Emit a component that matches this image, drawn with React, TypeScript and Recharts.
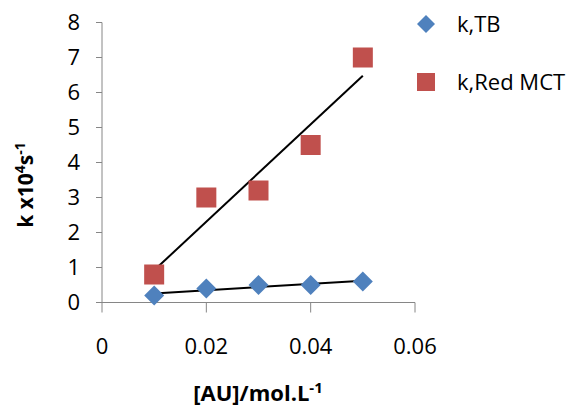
import { ScatterChart, Scatter, XAxis, YAxis, ReferenceLine, Legend, Label } from "recharts";

// [AU] concentrations (mol/L) and rate constants (k x10^4 s^-1)
const concentrations = [0.01, 0.02, 0.03, 0.04, 0.05];
const kTB = [0.2, 0.4, 0.5, 0.5, 0.6];
const kRedMCT = [0.8, 3.0, 3.2, 4.5, 7.0];

const xTicks = [0, 0.02, 0.04, 0.06];
const yTicks = [0, 1, 2, 3, 4, 5, 6, 7, 8];
const seriesNames = ["k,TB", "k,Red MCT"];

const BLUE = "#4F81BD";
const RED = "#C0504D";
const AXIS = "#868686";
const FONT = "'Open Sans', sans-serif";

const tbData = concentrations.map((x, i) => ({ x, y: kTB[i] }));
const redData = concentrations.map((x, i) => ({ x, y: kRedMCT[i] }));

// least squares trendline over the data range (like Excel's linear trendline)
const fit = (xs: number[], ys: number[]) => {
  const n = xs.length;
  const mx = xs.reduce((a, b) => a + b, 0) / n;
  const my = ys.reduce((a, b) => a + b, 0) / n;
  let sxy = 0;
  let sxx = 0;
  xs.forEach((x, i) => {
    sxy += (x - mx) * (ys[i] - my);
    sxx += (x - mx) * (x - mx);
  });
  const slope = sxy / sxx;
  const x0 = xs[0];
  const x1 = xs[n - 1];
  return [
    { x: x0, y: my + slope * (x0 - mx) },
    { x: x1, y: my + slope * (x1 - mx) },
  ];
};

const tbTrend = fit(concentrations, kTB);
const redTrend = fit(concentrations, kRedMCT);

const Diamond = (props: any) => {
  const { cx, cy } = props;
  const r = 10;
  return <path d={`M${cx},${cy - r}L${cx + r},${cy}L${cx},${cy + r}L${cx - r},${cy}Z`} fill={BLUE} />;
};

const Square = (props: any) => {
  const { cx, cy } = props;
  const s = 20;
  return <rect x={cx - s / 2} y={cy - s / 2} width={s} height={s} fill={RED} />;
};

const LegendBox = () => (
  <svg width={176} height={110} style={{ fontFamily: FONT, display: "block" }}>
    <path d="M26,15L35,24L26,33L17,24Z" fill={BLUE} />
    <text x={57} y={32} fontSize={22} fill="#000">{seriesNames[0]}</text>
    <rect x={17} y={73} width={18} height={18} fill={RED} />
    <text x={57} y={90} fontSize={22} fill="#000">{seriesNames[1]}</text>
  </svg>
);

const YTitle = () => (
  <text
    x={33}
    y={185}
    transform="rotate(-90, 33, 185)"
    textAnchor="middle"
    fontSize={21}
    fontWeight="bold"
    fontFamily={FONT}
    fill="#000"
  >
    <tspan>k x10</tspan>
    <tspan fontSize={14} dy={-8}>4</tspan>
    <tspan dy={8}>s</tspan>
    <tspan fontSize={14} dy={-8}>-1</tspan>
  </text>
);

const XTitle = () => (
  <text x={258} y={401} textAnchor="middle" fontSize={22} fontWeight="bold" fontFamily={FONT} fill="#000">
    <tspan>[AU]/mol.L</tspan>
    <tspan fontSize={15} dy={-8}>-1</tspan>
  </text>
);

export default function App() {
  return (
    <div style={{ position: "absolute", left: 0, top: 0, fontFamily: FONT }}>
      <ScatterChart width={576} height={408} margin={{ top: 22.5, right: 161, bottom: 45.5, left: 0 }}>
        <XAxis
          dataKey="x"
          type="number"
          domain={[0, 0.06]}
          ticks={xTicks}
          height={60}
          tickSize={10}
          tickMargin={26}
          stroke={AXIS}
          tick={{ fill: "#000", fontSize: 22, fontFamily: FONT }}
          tickFormatter={(v: number) => String(v)}
        >
          <Label content={<XTitle />} />
        </XAxis>
        <YAxis
          dataKey="y"
          type="number"
          domain={[0, 8]}
          ticks={yTicks}
          width={102}
          tickSize={6}
          tickMargin={16}
          stroke={AXIS}
          tick={{ fill: "#000", fontSize: 22, fontFamily: FONT }}
        >
          <Label content={<YTitle />} />
        </YAxis>
        <Legend
          content={<LegendBox />}
          layout="vertical"
          verticalAlign="middle"
          align="center"
          wrapperStyle={{ position: "absolute", left: 400, top: 0, width: 176, height: 110 }}
        />
        <Scatter name={seriesNames[0]} data={tbData} fill={BLUE} shape={<Diamond />} isAnimationActive={false} />
        <Scatter name={seriesNames[1]} data={redData} fill={RED} shape={<Square />} isAnimationActive={false} />
        <ReferenceLine
          segment={[redTrend[0], redTrend[1]]}
          stroke="#000"
          strokeWidth={2}
        />
        <ReferenceLine
          segment={[tbTrend[0], tbTrend[1]]}
          stroke="#000"
          strokeWidth={2}
        />
      </ScatterChart>
    </div>
  );
}
